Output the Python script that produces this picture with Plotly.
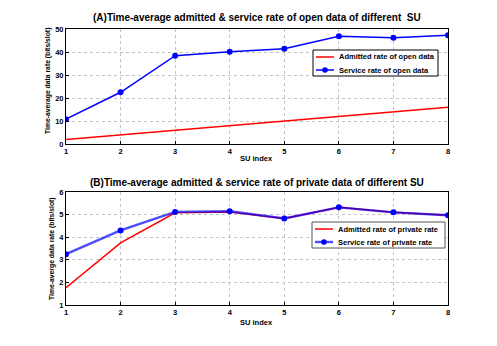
import plotly.graph_objects as go
from plotly.subplots import make_subplots

# data
su_index = [1, 2, 3, 4, 5, 6, 7, 8]
open_admitted = [2, 4, 6, 8, 10, 12, 14, 16]
open_service = [10.8, 22.5, 38.4, 40.1, 41.4, 46.8, 46.2, 47.3]
private_admitted = [1.77, 3.75, 5.08, 5.12, 4.83, 5.32, 5.1, 4.97]
private_service = [3.25, 4.3, 5.12, 5.15, 4.83, 5.32, 5.1, 4.97]

legend_open = ["Admitted rate of open data", "Service rate of open data"]
legend_private = ["Admitted rate of private rate", "Service rate of private rate"]

# page body has an 8px margin, so the figure is drawn 8px in and made smaller
OFF = 8
W, H = 497 - OFF, 346 - OFF
FONT = "Liberation Sans"
RED = "#ff0000"
BLUE = "#0000ff"


def X(px):
    return (px - OFF) / W


def Y(py):
    return 1 - (py - OFF) / H


fig = make_subplots(rows=2, cols=1)

fig.add_trace(go.Scatter(x=su_index, y=open_admitted, mode="lines",
                         line=dict(color=RED, width=1.5)), row=1, col=1)
fig.add_trace(go.Scatter(x=su_index, y=open_service, mode="lines+markers",
                         line=dict(color=BLUE, width=1.5),
                         marker=dict(size=6, color=BLUE)), row=1, col=1)
fig.add_trace(go.Scatter(x=su_index, y=private_admitted, mode="lines",
                         line=dict(color=RED, width=1.5)), row=2, col=1)
fig.add_trace(go.Scatter(x=su_index, y=private_service, mode="lines+markers",
                         line=dict(color="rgba(0,0,255,0.7)", width=2.4),
                         marker=dict(size=6, color=BLUE)), row=2, col=1)

axis_common = dict(showline=True, mirror=True, linecolor="black", linewidth=1,
                   showgrid=True, gridcolor="#c4c4c4", griddash="dot", gridwidth=1,
                   ticks="inside", ticklen=3, tickcolor="black", zeroline=False,
                   automargin=False,
                   tickfont=dict(family=FONT, size=7.5, color="black", weight="bold"))

fig.update_layout(
    width=W, height=H, margin=dict(l=0, r=0, t=0, b=0),
    paper_bgcolor="white", plot_bgcolor="white", showlegend=False,
    xaxis=dict(domain=[X(66), X(448)], range=[1, 8], dtick=1, **axis_common),
    yaxis=dict(domain=[Y(144), Y(29)], range=[0, 50], dtick=10, **axis_common),
    xaxis2=dict(domain=[X(66), X(448)], range=[1, 8], dtick=1, **axis_common),
    yaxis2=dict(domain=[Y(305), Y(192)], range=[1, 6], dtick=1, **axis_common),
)


def txt(x, y, s, size, angle=0, xanchor="center"):
    fig.add_annotation(x=X(x), y=Y(y), xref="paper", yref="paper", text=s,
                       showarrow=False, textangle=angle, xanchor=xanchor, yanchor="middle",
                       font=dict(family=FONT, size=size, color="black", weight="bold"))


txt(257, 17, "(A)Time-average admitted &amp; service rate of open data of different  SU", 10)
txt(257, 182, "(B)Time-average admitted &amp; service rate of private data of different SU", 10)
txt(257, 158, "SU index", 7.5)
txt(257, 322, "SU index", 7.5)
txt(48, 81, "Time-average data rate (bits/slot)", 6.8, -90)
txt(52, 249, "Time-averge data rate (bits/slot)", 6.8, -90)


# boxed legends drawn in paper space
def legend(box, rows, labels, service_color, service_width, border):
    x0, y0, x1, y1 = box
    fig.add_shape(type="rect", xref="paper", yref="paper",
                  x0=X(x0), x1=X(x1), y0=Y(y1), y1=Y(y0),
                  line=dict(color=border, width=1), fillcolor="white", layer="above")
    sx0, sx1 = x0 + 3, x0 + 21
    for i, (ry, lab) in enumerate(zip(rows, labels)):
        col = RED if i == 0 else service_color
        wid = 1.5 if i == 0 else service_width
        fig.add_shape(type="line", xref="paper", yref="paper",
                      x0=X(sx0), x1=X(sx1), y0=Y(ry), y1=Y(ry),
                      line=dict(color=col, width=wid), layer="above")
        if i == 1:
            cx = (sx0 + sx1) / 2
            fig.add_shape(type="circle", xref="paper", yref="paper",
                          x0=X(cx - 2.8), x1=X(cx + 2.8), y0=Y(ry + 2.8), y1=Y(ry - 2.8),
                          line=dict(color=BLUE, width=0), fillcolor=BLUE, layer="above")
        txt(sx1 + 3, ry, lab, 7.5, xanchor="left")


legend((313, 50, 438, 76), (57, 70), legend_open, BLUE, 1.5, "black")
legend((312, 222, 445, 248), (229, 242), legend_private, "rgba(0,0,255,0.7)", 2.4, "#555555")

fig.write_html("out.html")
